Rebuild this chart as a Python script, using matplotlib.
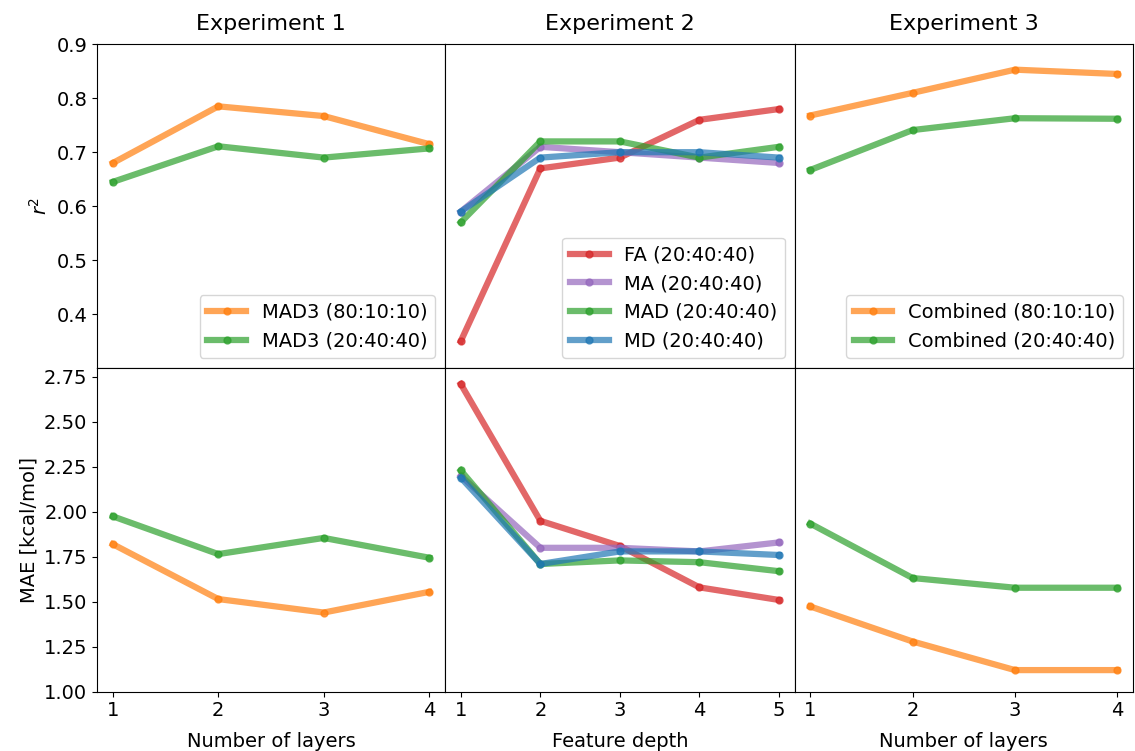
import numpy as np
import matplotlib
matplotlib.use("Agg")
import matplotlib.pyplot as plt

# x values
layers = [1, 2, 3, 4]
depth = [1, 2, 3, 4, 5]

# Experiment 1
exp1_r2_80 = [0.68, 0.785, 0.767, 0.715]
exp1_r2_20 = [0.645, 0.711, 0.69, 0.707]
exp1_mae_80 = [1.82, 1.515, 1.44, 1.555]
exp1_mae_20 = [1.975, 1.765, 1.855, 1.745]

# Experiment 2
fa_r2 = [0.35, 0.67, 0.69, 0.76, 0.78]
ma_r2 = [0.59, 0.71, 0.70, 0.69, 0.68]
mad_r2 = [0.57, 0.72, 0.72, 0.69, 0.71]
md_r2 = [0.59, 0.69, 0.70, 0.70, 0.69]
fa_mae = [2.71, 1.95, 1.81, 1.58, 1.51]
ma_mae = [2.20, 1.80, 1.80, 1.78, 1.83]
mad_mae = [2.23, 1.71, 1.73, 1.72, 1.67]
md_mae = [2.19, 1.71, 1.78, 1.78, 1.76]

# Experiment 3
exp3_r2_80 = [0.768, 0.81, 0.853, 0.845]
exp3_r2_20 = [0.667, 0.741, 0.763, 0.762]
exp3_mae_80 = [1.474, 1.279, 1.12, 1.12]
exp3_mae_20 = [1.935, 1.632, 1.578, 1.578]

plt.rcParams['font.size'] = 14
fig, axes = plt.subplots(2, 3, figsize=(11.35, 7.51), dpi=100,
                         sharex='col', sharey='row',
                         gridspec_kw={'width_ratios': [348, 350, 338]})
fig.subplots_adjust(left=0.0855, right=0.998, top=0.941, bottom=0.079,
                    wspace=0, hspace=0)

style = dict(lw=4.5, marker='o', ms=5, alpha=0.7)

ax = axes[0, 0]
ax.plot(layers, exp1_r2_80, color='tab:orange', label='MAD3 (80:10:10)', **style)
ax.plot(layers, exp1_r2_20, color='tab:green', label='MAD3 (20:40:40)', **style)
ax.legend(loc='lower right')
ax.set_title('Experiment 1', fontsize=16, pad=10)
ax.set_ylabel('$r^2$')

ax = axes[0, 1]
ax.plot(depth, fa_r2, color='tab:red', label='FA (20:40:40)', **style)
ax.plot(depth, ma_r2, color='tab:purple', label='MA (20:40:40)', **style)
ax.plot(depth, mad_r2, color='tab:green', label='MAD (20:40:40)', **style)
ax.plot(depth, md_r2, color='tab:blue', label='MD (20:40:40)', **style)
ax.legend(loc='lower right')
ax.set_title('Experiment 2', fontsize=16, pad=10)

ax = axes[0, 2]
ax.plot(layers, exp3_r2_80, color='tab:orange', label='Combined (80:10:10)', **style)
ax.plot(layers, exp3_r2_20, color='tab:green', label='Combined (20:40:40)', **style)
ax.legend(loc='lower right')
ax.set_title('Experiment 3', fontsize=16, pad=10)

ax = axes[1, 0]
ax.plot(layers, exp1_mae_80, color='tab:orange', **style)
ax.plot(layers, exp1_mae_20, color='tab:green', **style)
ax.set_ylabel('MAE [kcal/mol]')
ax.set_xlabel('Number of layers', fontsize=14, labelpad=8)

ax = axes[1, 1]
ax.plot(depth, fa_mae, color='tab:red', **style)
ax.plot(depth, ma_mae, color='tab:purple', **style)
ax.plot(depth, mad_mae, color='tab:green', **style)
ax.plot(depth, md_mae, color='tab:blue', **style)
ax.set_xlabel('Feature depth', fontsize=14, labelpad=8)

ax = axes[1, 2]
ax.plot(layers, exp3_mae_80, color='tab:orange', **style)
ax.plot(layers, exp3_mae_20, color='tab:green', **style)
ax.set_xlabel('Number of layers', fontsize=14, labelpad=8)

axes[0, 0].set_ylim(0.3, 0.9)
axes[0, 0].set_yticks([0.4, 0.5, 0.6, 0.7, 0.8, 0.9])
axes[1, 0].set_ylim(1.0, 2.8)
axes[1, 0].set_yticks([1.0, 1.25, 1.5, 1.75, 2.0, 2.25, 2.5, 2.75])
axes[1, 0].set_yticklabels(['1.00', '1.25', '1.50', '1.75', '2.00', '2.25', '2.50', '2.75'])
axes[1, 0].set_xticks(layers)
axes[1, 1].set_xticks(depth)
axes[1, 2].set_xticks(layers)

for ax in axes[0, :]:
    ax.tick_params(axis='x', length=0)
for ax in axes[:, 1:].ravel():
    ax.tick_params(axis='y', length=0)

fig.savefig('out.png', dpi=100)
